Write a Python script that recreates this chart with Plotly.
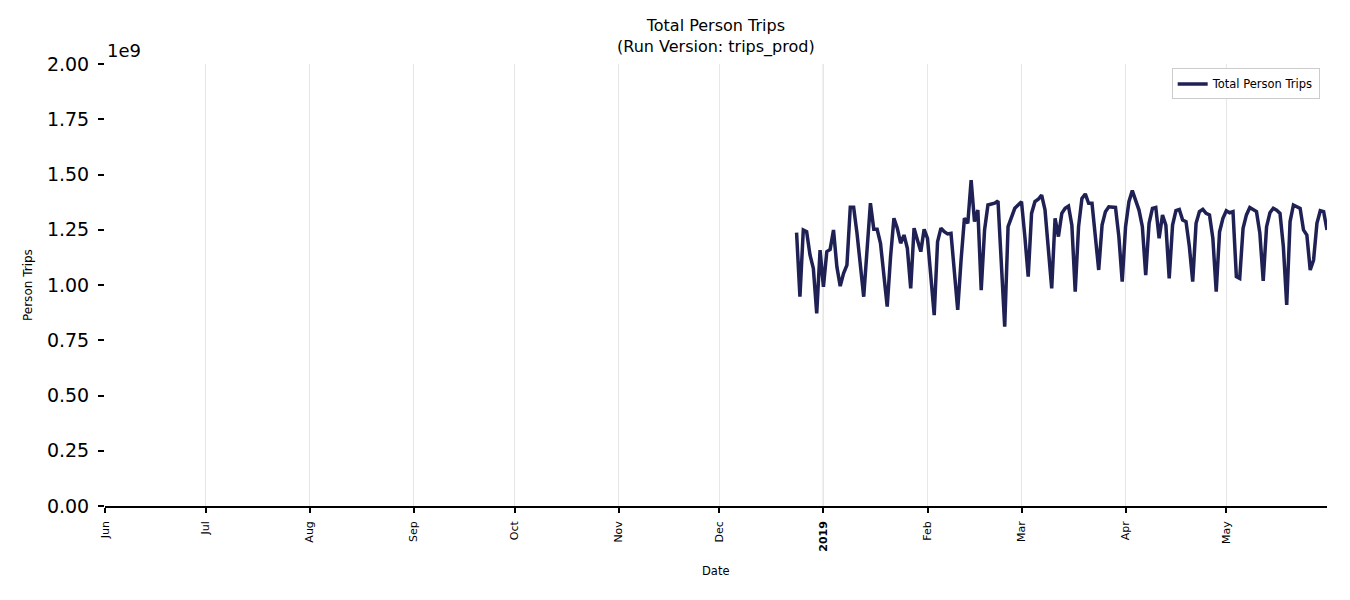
import pandas as pd
import plotly.graph_objects as go

# ---- data ----
start_date = "2018-12-24"
end_date = "2019-05-31"
dates = pd.date_range(start_date, end_date, freq="D")

trips_dec = [1.237, 0.947, 1.249, 1.241, 1.136, 1.075, 0.872, 1.158]
trips_jan = [0.992, 1.151, 1.161, 1.249, 1.083, 0.995, 1.053, 1.090, 1.352, 1.352,
             1.234, 1.083, 0.947, 1.160, 1.370, 1.252, 1.252, 1.189, 1.053, 0.902,
             1.128, 1.302, 1.257, 1.189, 1.226, 1.166, 0.985, 1.257, 1.204, 1.151,
             1.252]
trips_feb = [1.211, 1.038, 0.864, 1.196, 1.257, 1.241, 1.231, 1.234, 1.068, 0.887,
             1.113, 1.302, 1.279, 1.475, 1.287, 1.339, 0.977, 1.249, 1.362, 1.365,
             1.370, 1.380, 1.068, 0.811, 1.264, 1.309, 1.347, 1.362]
trips_mar = [1.377, 1.219, 1.038, 1.324, 1.377, 1.388, 1.407, 1.340, 1.174, 0.985,
             1.302, 1.219, 1.324, 1.347, 1.357, 1.271, 0.970, 1.264, 1.392, 1.412,
             1.370, 1.370, 1.219, 1.068, 1.271, 1.332, 1.354, 1.351, 1.351, 1.219,
             1.015]
trips_apr = [1.264, 1.377, 1.427, 1.377, 1.339, 1.264, 1.045, 1.279, 1.347, 1.351,
             1.211, 1.317, 1.271, 1.030, 1.271, 1.337, 1.342, 1.294, 1.287, 1.174,
             1.015, 1.279, 1.332, 1.342, 1.324, 1.317, 1.211, 0.970, 1.241, 1.302]
trips_may = [1.336, 1.327, 1.332, 1.038, 1.030, 1.257, 1.317, 1.351, 1.339, 1.332,
             1.234, 1.019, 1.264, 1.327, 1.347, 1.339, 1.324, 1.174, 0.910, 1.287,
             1.362, 1.354, 1.347, 1.249, 1.226, 1.068, 1.113, 1.279, 1.336, 1.332,
             1.249]
trips_billions = trips_dec + trips_jan + trips_feb + trips_mar + trips_apr + trips_may
trips = [v * 1e9 for v in trips_billions]

x_tick_vals = ["2018-06-01", "2018-07-01", "2018-08-01", "2018-09-01", "2018-10-01",
               "2018-11-01", "2018-12-01", "2019-01-01", "2019-02-01", "2019-03-01",
               "2019-04-01", "2019-05-01"]
x_tick_text = ["Jun", "Jul", "Aug", "Sep", "Oct", "Nov", "Dec", "<b>2019</b>",
               "Feb", "Mar", "Apr", "May"]
year_boundary = "2019-01-01"
x_range = ["2018-06-01", "2019-05-31"]

y_tick_vals = [0, 0.25e9, 0.5e9, 0.75e9, 1.0e9, 1.25e9, 1.5e9, 1.75e9, 2.0e9]
y_tick_text = ["0.00", "0.25", "0.50", "0.75", "1.00", "1.25", "1.50", "1.75", "2.00"]
y_range = [0, 2.0e9]

FONT = "DejaVu Sans"
LINE_COLOR = "#1f2054"

fig = go.Figure()
fig.add_trace(go.Scatter(
    x=dates, y=trips, mode="lines", name="Total Person Trips",
    line=dict(color=LINE_COLOR, width=3.5),
))

fig.add_shape(type="line", xref="x", yref="paper", x0=year_boundary, x1=year_boundary,
              y0=0, y1=1, line=dict(color="#444444", width=1), layer="below")

fig.update_layout(
    width=1334, height=584,
    paper_bgcolor="white", plot_bgcolor="white",
    margin=dict(l=97, r=15, t=56, b=86),
    font=dict(family=FONT, color="black"),
    showlegend=True,
    legend=dict(x=0.994, y=0.99, xanchor="right", yanchor="top",
                bgcolor="white", bordercolor="#cccccc", borderwidth=1,
                itemwidth=30, font=dict(size=11.5, family=FONT)),
    annotations=[
        dict(text="Total Person Trips<br>(Run Version: trips_prod)", xref="paper", yref="paper",
             x=0.5, y=1.0, yshift=5, xanchor="center", yanchor="bottom", showarrow=False,
             font=dict(size=16, family=FONT)),
        dict(text="1e9", xref="paper", yref="paper", x=0, y=1, xanchor="left", yanchor="bottom",
             showarrow=False, font=dict(size=18, family=FONT), yshift=1),
        dict(text="Person Trips", xref="paper", yref="paper", x=0, y=0.5, xshift=-86,
             textangle=-90, showarrow=False, font=dict(size=12, family=FONT)),
        dict(text="Date", xref="paper", yref="paper", x=0.5, y=0, yshift=-56,
             showarrow=False, font=dict(size=11.5, family=FONT), yanchor="top"),
    ],
)

fig.update_xaxes(
    type="date", range=x_range, automargin=False,
    tickmode="array", tickvals=x_tick_vals, ticktext=x_tick_text,
    tickangle=-90, tickfont=dict(size=11, family=FONT), ticklabelstandoff=4,
    showgrid=True, gridcolor="#e6e6e6", gridwidth=1,
    showline=True, linecolor="black", linewidth=1.5,
    ticks="outside", ticklen=5, tickcolor="black", tickwidth=1.5,
    zeroline=False,
)
fig.update_yaxes(
    range=y_range, automargin=False,
    tickmode="array", tickvals=y_tick_vals, ticktext=y_tick_text,
    tickfont=dict(size=19, family=FONT), ticklabelstandoff=5,
    showgrid=False, showline=False, zeroline=False,
    ticks="outside", ticklen=6, tickcolor="black", tickwidth=1.5,
)

fig.write_html("out.html")
